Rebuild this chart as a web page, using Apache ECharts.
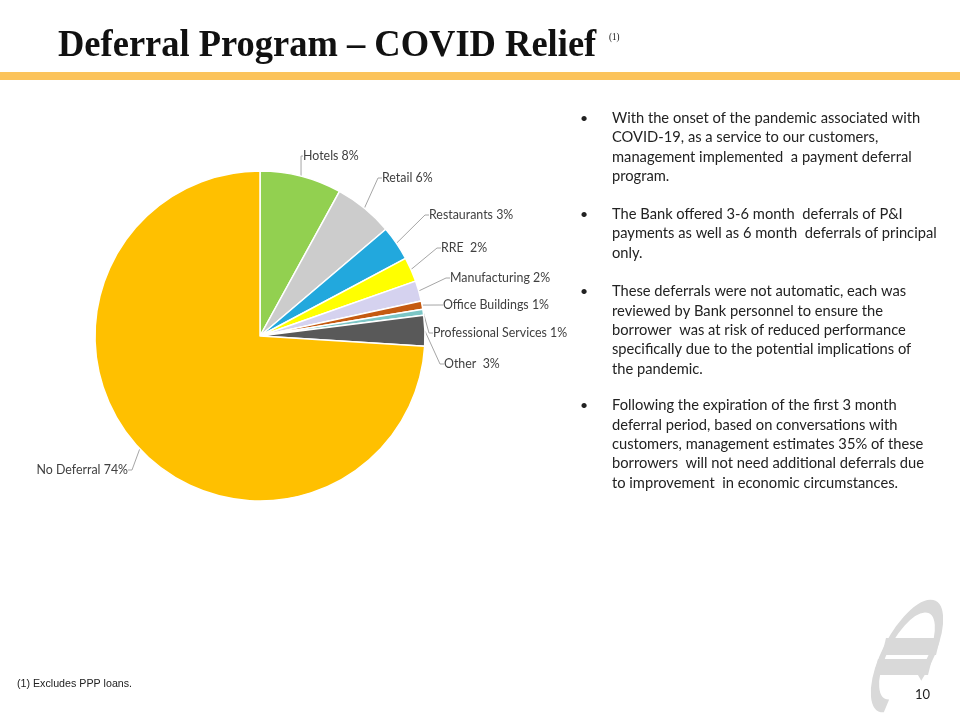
<!DOCTYPE html>
<html>
<head>
<meta charset="utf-8">
<script src="https://cdn.jsdelivr.net/npm/echarts@6/dist/echarts.min.js"></script>
<style>html,body{margin:0;padding:0;background:#fff}#c{width:960px;height:720px}</style>
</head>
<body>
<div id="c"></div>
<script>
// ---- data ----
const categories = ['Hotels', 'Retail', 'Restaurants', 'RRE', 'Manufacturing', 'Office Buildings', 'Professional Services', 'Other', 'No Deferral'];
const shares = [8.0, 5.8, 3.4, 2.4, 2.0, 0.8, 0.6, 3.0, 74.0];
const shareLabels = ['8%', '6%', '3%', ' 2%', '2%', '1%', '1%', ' 3%', '74%'];
const bulletParagraphs = [
  ['With the onset of the pandemic associated with', 'COVID-19, as a service to our customers,', 'management implemented  a payment deferral', 'program.'],
  ['The Bank offered 3-6 month  deferrals of P&I', 'payments as well as 6 month  deferrals of principal', 'only.'],
  ['These deferrals were not automatic, each was', 'reviewed by Bank personnel to ensure the', 'borrower  was at risk of reduced performance', 'specifically due to the potential implications of', 'the pandemic.'],
  ['Following the expiration of the first 3 month', 'deferral period, based on conversations with', 'customers, management estimates 35% of these', 'borrowers  will not need additional deferrals due', 'to improvement  in economic circumstances.']
];

// ---- styles / layout ----
const sliceColors = ['#92D050', '#CCCCCC', '#22A8DD', '#FFFF00', '#D5D2EF', '#C55A11', '#7CC6C6', '#595959', '#FFC000'];
const labelSpots = [
  [303, 156, 'left'], [382, 178, 'left'], [429, 215, 'left'], [441, 248, 'left'],
  [450, 278, 'left'], [443, 305, 'left'], [433, 333, 'left'], [444, 364, 'left'],
  [128, 470, 'right']
];
const paraTops = [118.3, 214.3, 291.7, 405.7];
const LH = 19.3;

const chart = echarts.init(document.getElementById('c'), null, {renderer: 'canvas'});

const graphic = [
  {type: 'rect', shape: {x: 0, y: 72, width: 960, height: 8}, style: {fill: '#FBC35B'}, silent: true},
  {type: 'text', x: 58, y: 46, scaleX: 0.96, style: {text: 'Deferral Program – COVID Relief', font: 'bold 38px "Liberation Serif", "Times New Roman", serif', fill: '#111', textVerticalAlign: 'middle'}},
  {type: 'text', x: 609, y: 37, scaleX: 0.9, style: {text: '(1)', font: '10px "Liberation Serif", serif', fill: '#111', textVerticalAlign: 'middle'}},
  {type: 'text', x: 17, y: 684, scaleX: 0.97, style: {text: '(1) Excludes PPP loans.', font: '11px "Liberation Sans Narrow", "Liberation Sans", sans-serif', fill: '#222', textVerticalAlign: 'middle'}},
  // logo
  {type: 'arc', x: 907, y: 656, rotation: -0.48, scaleX: 0.4, shape: {cx: 0, cy: 0, r: 55, startAngle: 1.35, endAngle: 0.25 + Math.PI * 2}, style: {stroke: '#D9D9D9', lineWidth: 9, strokeNoScale: true, fill: null}, silent: true},
  {type: 'polygon', shape: {points: [[886, 638], [940, 638], [936, 655], [882, 655]]}, style: {fill: '#D9D9D9'}, silent: true},
  {type: 'polygon', shape: {points: [[878, 659], [932, 659], [928, 675], [874, 675]]}, style: {fill: '#D9D9D9'}, silent: true},
  {type: 'text', x: 915, y: 695, style: {text: '10', font: '13px Lato, "Open Sans", sans-serif', fill: '#222', textVerticalAlign: 'middle'}}
];
bulletParagraphs.forEach((lines, i) => {
  graphic.push({type: 'text', x: 580, y: paraTops[i], style: {text: '•', font: '14px Lato, sans-serif', fill: '#222', textVerticalAlign: 'middle'}});
  graphic.push({type: 'text', x: 612, y: paraTops[i] - LH / 2, style: {text: lines.join('\n'), font: '14.7px Lato, "Open Sans", sans-serif', lineHeight: LH, fill: '#222', textVerticalAlign: 'top'}});
});

chart.setOption({
  animation: false,
  backgroundColor: '#fff',
  graphic: graphic,
  series: [{
    type: 'pie',
    center: [260, 336],
    radius: [0, 165],
    startAngle: 90,
    clockwise: true,
    avoidLabelOverlap: false,
    itemStyle: {borderColor: '#fff', borderWidth: 1.5},
    label: {
      show: true,
      position: 'outside',
      color: '#404040',
      fontFamily: 'Lato, "Open Sans", sans-serif',
      fontSize: 12.4,
      formatter: p => categories[p.dataIndex] + ' ' + shareLabels[p.dataIndex]
    },
    labelLine: {show: true, length: 10, length2: 4, lineStyle: {color: '#A6A6A6', width: 1}},
    labelLayout: function (params) {
      const s = labelSpots[params.dataIndex];
      return {x: s[0], y: s[1], align: s[2], verticalAlign: 'middle'};
    },
    data: categories.map((c, i) => ({name: c, value: shares[i], itemStyle: {color: sliceColors[i]}}))
  }]
});
</script>
</body>
</html>
